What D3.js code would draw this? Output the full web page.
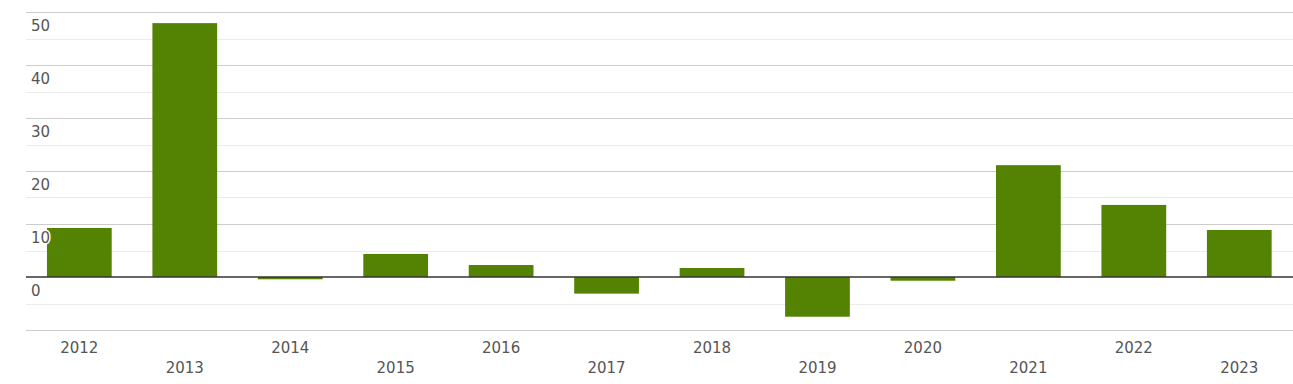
<!DOCTYPE html>
<html><head><meta charset="utf-8">
<script src="https://cdn.jsdelivr.net/npm/d3@7"></script>
<style>body{margin:0;background:#fff}svg{display:block}</style>
</head><body>
<script>
const categories = ["2012","2013","2014","2015","2016","2017","2018","2019","2020","2021","2022","2023"];
const values = [9.25, 47.9, -0.43, 4.34, 2.26, -3.14, 1.7, -7.49, -0.7, 21.1, 13.6, 8.87];
const majorTicks = [50, 40, 30, 20, 10, 0, -10];
const minorTicks = [45, 35, 25, 15, 5, -5];

const W = 1293, H = 384;
const svg = d3.select("body").append("svg").attr("width", W).attr("height", H);
const x = d3.scaleBand().domain(categories).range([26.6, 1292]).paddingInner(0.386).paddingOuter(0.193);
const y = d3.scaleLinear().domain([-10, 50]).range([330, 12]);

svg.append("g").selectAll("line").data(minorTicks).join("line")
  .attr("x1", 26).attr("x2", W).attr("y1", d => Math.round(y(d)) + 0.5).attr("y2", d => Math.round(y(d)) + 0.5)
  .attr("stroke", "#ebebeb").attr("stroke-width", 1);
svg.append("g").selectAll("line").data(majorTicks.filter(d => d !== 0)).join("line")
  .attr("x1", 26).attr("x2", W).attr("y1", d => Math.round(y(d)) + 0.5).attr("y2", d => Math.round(y(d)) + 0.5)
  .attr("stroke", "#cccccc").attr("stroke-width", 1);

svg.append("g").selectAll("rect").data(values).join("rect")
  .attr("x", (d, i) => x(categories[i]))
  .attr("width", x.bandwidth())
  .attr("y", d => y(Math.max(0, d)))
  .attr("height", d => Math.abs(y(d) - y(0)))
  .attr("fill", "#548203");

svg.append("line").attr("x1", 26).attr("x2", W).attr("y1", y(0)).attr("y2", y(0))
  .attr("stroke", "#333").attr("stroke-width", 1.5);

svg.append("g").selectAll("text").data(majorTicks.filter(d => d !== -10)).join("text")
  .attr("x", 31).attr("y", d => y(d) + 18.5)
  .text(d => d)
  .attr("font-family", "DejaVu Sans").attr("font-size", 15)
  .attr("fill", "#555")
  .attr("stroke", "#fff").attr("stroke-width", 3).attr("paint-order", "stroke")
  .attr("stroke-linejoin", "round");

svg.append("g").selectAll("text").data(categories).join("text")
  .attr("x", d => x(d) + x.bandwidth() / 2)
  .attr("y", (d, i) => i % 2 === 0 ? 353 : 373)
  .attr("text-anchor", "middle")
  .attr("font-family", "DejaVu Sans").attr("font-size", 15)
  .attr("fill", "#555")
  .text(d => d);
</script>
</body></html>
